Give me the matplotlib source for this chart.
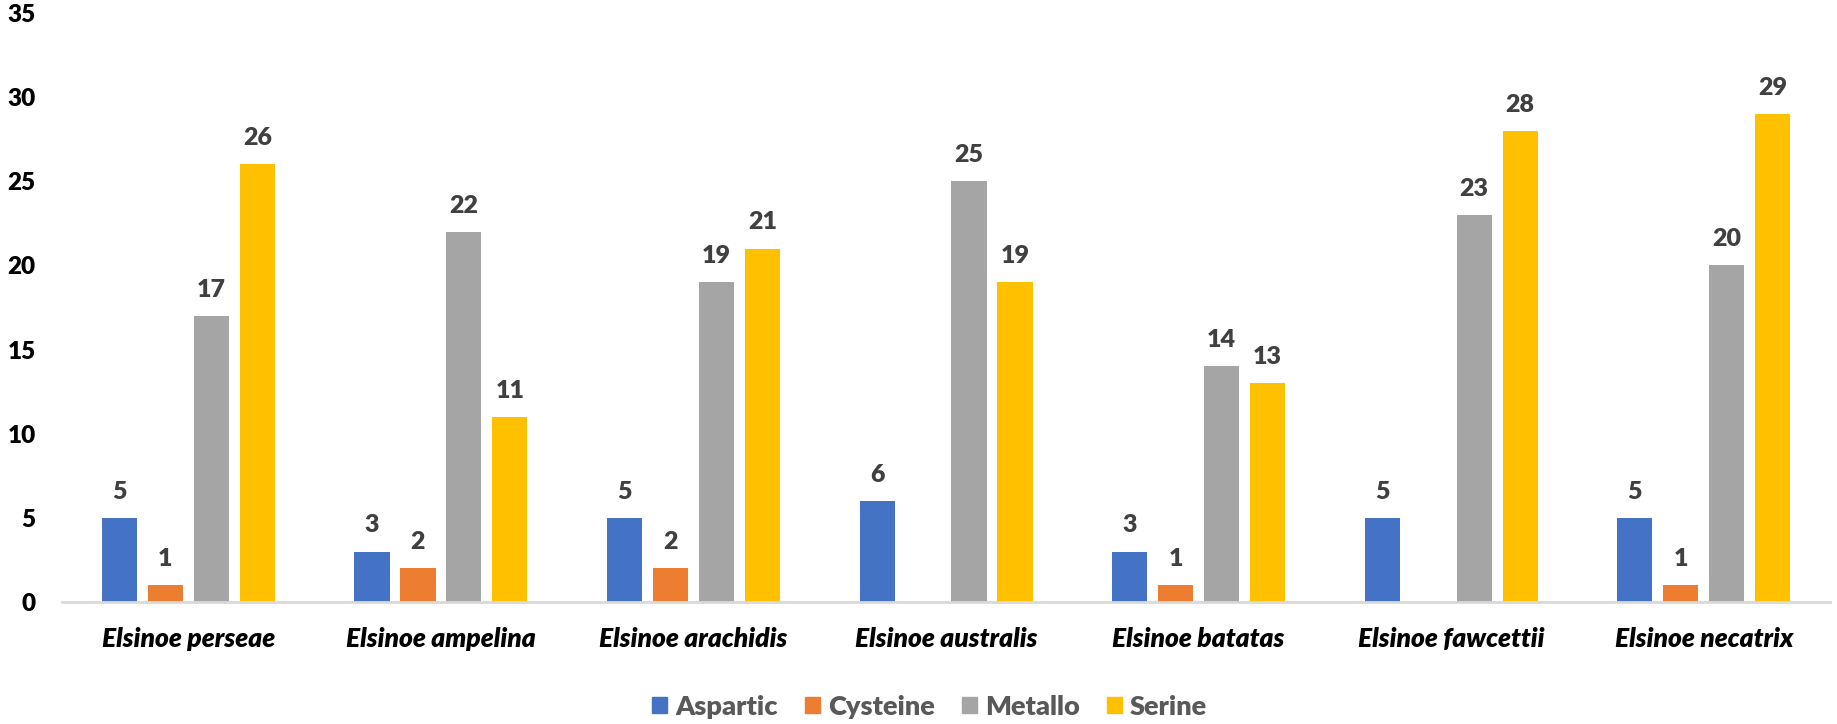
import numpy as np
import matplotlib
matplotlib.use("Agg")
from matplotlib import pyplot as plt
from matplotlib.patches import Patch

plt.rcParams['font.family'] = ['Lato', 'DejaVu Sans']

species = ['Elsinoe perseae', 'Elsinoe ampelina', 'Elsinoe arachidis', 'Elsinoe australis',
           'Elsinoe batatas', 'Elsinoe fawcettii', 'Elsinoe necatrix']
series_names = ['Aspartic', 'Cysteine', 'Metallo', 'Serine']
aspartic = [5, 3, 5, 6, 3, 5, 5]
cysteine = [1, 2, 2, 0, 1, 0, 1]
metallo = [17, 22, 19, 25, 14, 23, 20]
serine = [26, 11, 21, 19, 13, 28, 29]
yticks = [0, 5, 10, 15, 20, 25, 30, 35]

colors = ['#4472c4', '#ed7d31', '#a5a5a5', '#ffc000']
all_series = [aspartic, cysteine, metallo, serine]

fig = plt.figure(figsize=(18.37, 7.24), dpi=100)
ax = fig.add_axes([0.0338, 0.1685, 0.9624, 0.8135])

x = np.arange(len(species))
width = 0.139
step = 0.182
for i, (vals, c) in enumerate(zip(all_series, colors)):
    pos = x + (i - 1.5) * step
    bars = ax.bar(pos, vals, width, color=c, zorder=2)
    for b, v in zip(bars, vals):
        if v > 0:
            ax.text(b.get_x() + b.get_width() / 2, v + 0.9, str(v), ha='center', va='bottom',
                    fontsize=18, fontweight='heavy', color='#404040')

ax.set_xlim(-0.5, len(species) - 0.5)
ax.set_ylim(0, 35)
ax.set_yticks(yticks)
ax.set_yticklabels([str(t) for t in yticks], fontsize=17.5, fontweight='heavy', color='black')
ax.set_xticks(x)
ax.set_xticklabels(species, fontsize=19, fontweight='heavy', fontstyle='italic', color='black')
ax.tick_params(axis='y', length=0, pad=19)
ax.tick_params(axis='x', length=0, pad=18)
for s in ['top', 'right', 'left']:
    ax.spines[s].set_visible(False)
ax.spines['bottom'].set_color('#d9d9d9')
ax.spines['bottom'].set_linewidth(2)
ax.spines['bottom'].set_zorder(3)

handles = [Patch(color=c, label=n) for c, n in zip(colors, series_names)]
leg = fig.legend(handles=handles, loc='center', bbox_to_anchor=(0.506, 0.024), ncol=4, frameon=False,
                 handlelength=0.55, handleheight=0.55, handletextpad=0.3, columnspacing=1.0,
                 prop={'weight': 'heavy', 'size': 19.5})
for t in leg.get_texts():
    t.set_color('#595959')

fig.savefig('out.png', dpi=100)
